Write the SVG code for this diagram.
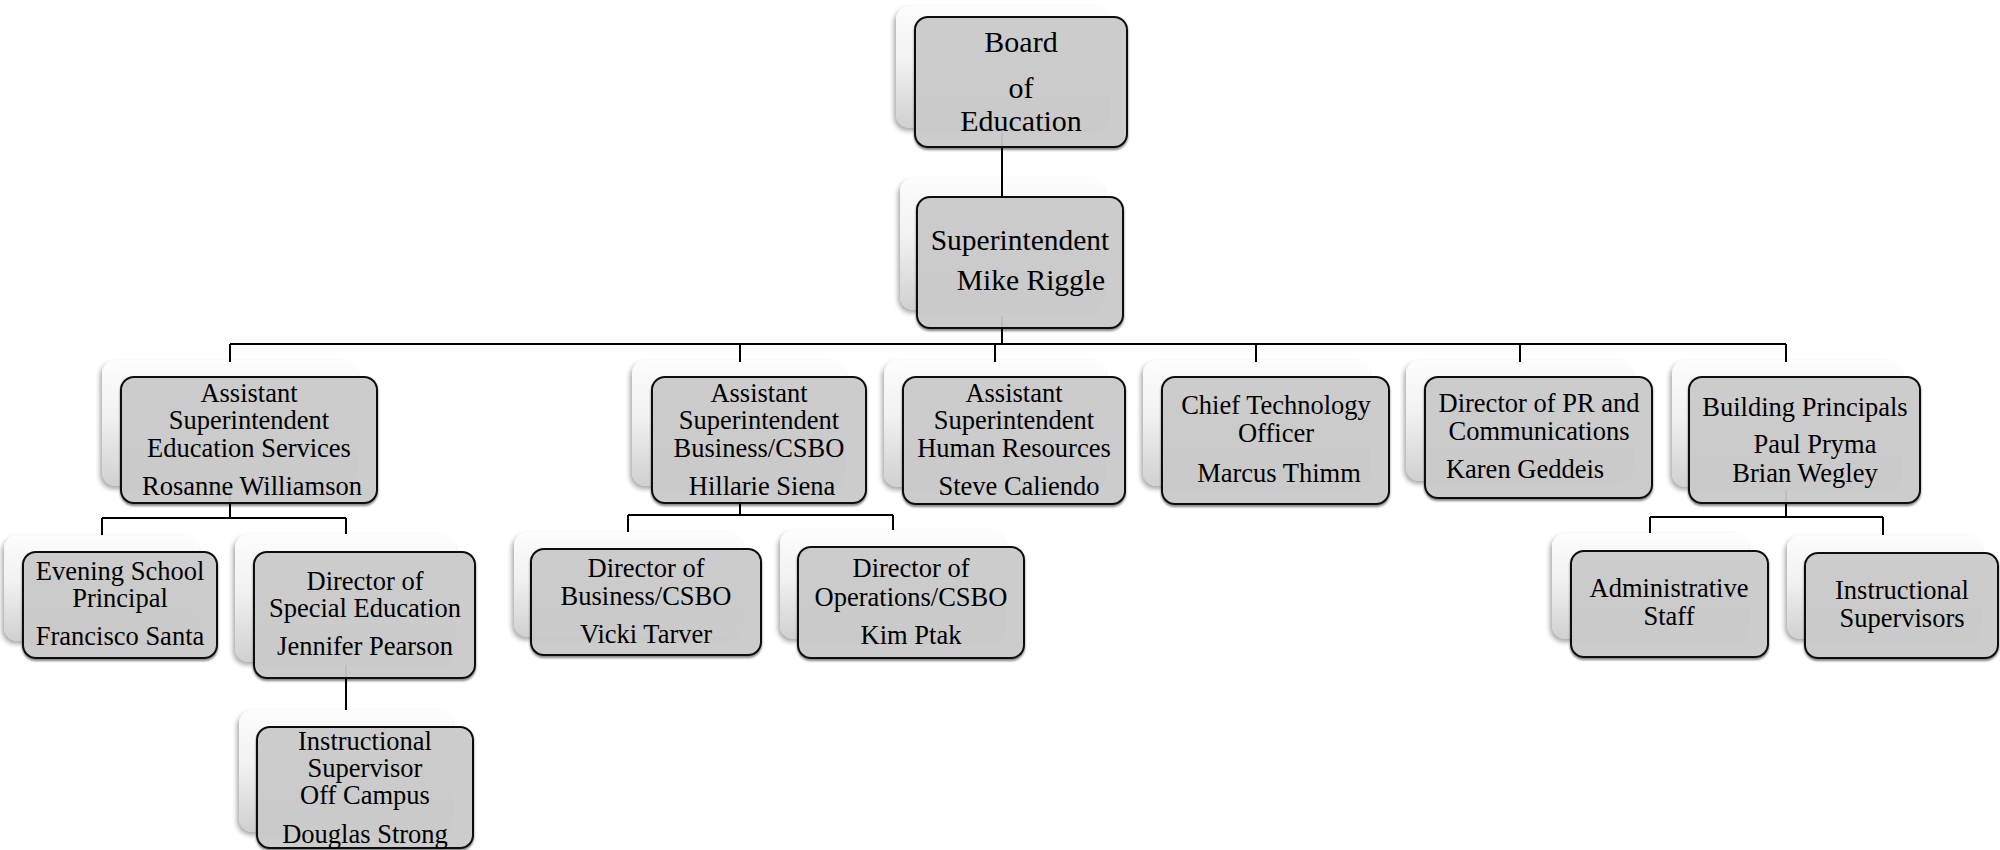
<svg xmlns="http://www.w3.org/2000/svg" width="2000" height="850" viewBox="0 0 2000 850">
<defs>
<linearGradient id="sg" x1="0" y1="0" x2="0" y2="1">
<stop offset="0" stop-color="#fdfdfd"/>
<stop offset="0.45" stop-color="#f1f1f1"/>
<stop offset="1" stop-color="#d0d0d0"/>
</linearGradient>
<filter id="fs" x="-10%" y="-10%" width="120%" height="125%">
<feGaussianBlur in="SourceAlpha" stdDeviation="2.5"/>
<feOffset dx="-2" dy="3" result="b"/>
<feComponentTransfer><feFuncA type="linear" slope="0.35"/></feComponentTransfer>
<feMerge><feMergeNode/><feMergeNode in="SourceGraphic"/></feMerge>
</filter>
<filter id="fb" x="-5%" y="-5%" width="110%" height="115%">
<feGaussianBlur in="SourceAlpha" stdDeviation="1"/>
<feOffset dx="0" dy="1.5"/>
<feComponentTransfer><feFuncA type="linear" slope="0.5"/></feComponentTransfer>
<feMerge><feMergeNode/><feMergeNode in="SourceGraphic"/></feMerge>
</filter>
</defs>
<style>
.sh{fill:url(#sg);filter:url(#fs)}
.bx{fill:#cdcdcd;fill-opacity:0.9;stroke:#111;stroke-width:2;filter:url(#fb)}
.t{font-family:"Liberation Serif","Times New Roman",serif;font-size:26.5px;fill:#000;text-anchor:middle}
.tl{font-size:30px}
.tm{font-size:29.5px}
.c{stroke:#000;stroke-width:2;fill:none}
</style>
<rect width="2000" height="850" fill="#fff"/>

<g id="shadows">
<rect class="sh" x="896" y="6" width="214" height="122" rx="14"/>
<rect class="sh" x="900" y="178" width="205" height="132" rx="14"/>
<rect class="sh" x="102" y="360" width="256" height="126" rx="14"/>
<rect class="sh" x="632" y="360" width="214" height="126" rx="14"/>
<rect class="sh" x="884" y="360" width="222" height="127" rx="14"/>
<rect class="sh" x="1143" y="360" width="227" height="126" rx="14"/>
<rect class="sh" x="1406" y="360" width="227" height="121" rx="14"/>
<rect class="sh" x="1672" y="360" width="230" height="127" rx="14"/>
<rect class="sh" x="4" y="535" width="195" height="106" rx="14"/>
<rect class="sh" x="235" y="534" width="221" height="128" rx="14"/>
<rect class="sh" x="239" y="710" width="214" height="122" rx="14"/>
<rect class="sh" x="514" y="532" width="229" height="105" rx="14"/>
<rect class="sh" x="780" y="530" width="226" height="109" rx="14"/>
<rect class="sh" x="1552" y="533" width="197" height="106" rx="14"/>
<rect class="sh" x="1787" y="535" width="195" height="104" rx="14"/>
</g>

<g id="connectors">
<path class="c" d="M1002 133V197"/>
<path class="c" d="M1002 316V344M230 344H1786M230 344V362M740 344V362M995 344V362M1256 344V362M1520 344V362M1786 344V362"/>
<path class="c" d="M230 490V518M102 518H346M102 518V535M346 518V534"/>
<path class="c" d="M346 665V710"/>
<path class="c" d="M740 490V515M628 515H893M628 515V532M893 515V530"/>
<path class="c" d="M1786 490V517M1650 517H1883M1650 517V533M1883 517V535"/>
</g>

<g id="board">
<rect class="bx" x="915" y="17" width="212" height="130" rx="13"/>
<text class="t tl" x="1021" y="52">Board</text>
<text class="t tl" x="1021" y="98">of</text>
<text class="t tl" x="1021" y="131">Education</text>
</g>
<g id="superintendent">
<rect class="bx" x="917" y="197" width="206" height="131" rx="13"/>
<text class="t tm" x="1020" y="250">Superintendent</text>
<text class="t tm" x="1031" y="290">Mike Riggle</text>
</g>
<g id="as-education">
<rect class="bx" x="121" y="377" width="256" height="126" rx="13"/>
<text class="t" x="249" y="402">Assistant</text>
<text class="t" x="249" y="429">Superintendent</text>
<text class="t" x="249" y="457">Education Services</text>
<text class="t" x="252" y="495">Rosanne Williamson</text>
</g>
<g id="as-business">
<rect class="bx" x="652" y="377" width="214" height="126" rx="13"/>
<text class="t" x="759" y="402">Assistant</text>
<text class="t" x="759" y="429">Superintendent</text>
<text class="t" x="759" y="457">Business/CSBO</text>
<text class="t" x="762" y="495">Hillarie Siena</text>
</g>
<g id="as-hr">
<rect class="bx" x="903" y="377" width="222" height="127" rx="13"/>
<text class="t" x="1014" y="402">Assistant</text>
<text class="t" x="1014" y="429">Superintendent</text>
<text class="t" x="1014" y="457">Human Resources</text>
<text class="t" x="1019" y="495">Steve Caliendo</text>
</g>
<g id="cto">
<rect class="bx" x="1162" y="377" width="227" height="127" rx="13"/>
<text class="t" x="1276" y="414">Chief Technology</text>
<text class="t" x="1276" y="442">Officer</text>
<text class="t" x="1279" y="482">Marcus Thimm</text>
</g>
<g id="pr">
<rect class="bx" x="1425" y="377" width="227" height="121" rx="13"/>
<text class="t" x="1539" y="412">Director of PR and</text>
<text class="t" x="1539" y="440">Communications</text>
<text class="t" x="1525" y="478">Karen Geddeis</text>
</g>
<g id="principals">
<rect class="bx" x="1689" y="377" width="231" height="126" rx="13"/>
<text class="t" x="1805" y="416">Building Principals</text>
<text class="t" x="1815" y="453">Paul Pryma</text>
<text class="t" x="1805" y="482">Brian Wegley</text>
</g>
<g id="evening">
<rect class="bx" x="23" y="552" width="194" height="106" rx="13"/>
<text class="t" x="120" y="580">Evening School</text>
<text class="t" x="120" y="607">Principal</text>
<text class="t" x="120" y="645">Francisco Santa</text>
</g>
<g id="special-ed">
<rect class="bx" x="254" y="552" width="221" height="126" rx="13"/>
<text class="t" x="365" y="590">Director of</text>
<text class="t" x="365" y="617">Special Education</text>
<text class="t" x="365" y="655">Jennifer Pearson</text>
</g>
<g id="off-campus">
<rect class="bx" x="257" y="727" width="216" height="121" rx="13"/>
<text class="t" x="365" y="750">Instructional</text>
<text class="t" x="365" y="777">Supervisor</text>
<text class="t" x="365" y="804">Off Campus</text>
<text class="t" x="365" y="843">Douglas Strong</text>
</g>
<g id="dir-business">
<rect class="bx" x="531" y="549" width="230" height="106" rx="13"/>
<text class="t" x="646" y="577">Director of</text>
<text class="t" x="646" y="605">Business/CSBO</text>
<text class="t" x="646" y="643">Vicki Tarver</text>
</g>
<g id="dir-operations">
<rect class="bx" x="798" y="547" width="226" height="111" rx="13"/>
<text class="t" x="911" y="577">Director of</text>
<text class="t" x="911" y="606">Operations/CSBO</text>
<text class="t" x="911" y="644">Kim Ptak</text>
</g>
<g id="admin-staff">
<rect class="bx" x="1571" y="551" width="197" height="106" rx="13"/>
<text class="t" x="1669" y="597">Administrative</text>
<text class="t" x="1669" y="625">Staff</text>
</g>
<g id="instr-supervisors">
<rect class="bx" x="1805" y="553" width="193" height="105" rx="13"/>
<text class="t" x="1902" y="599">Instructional</text>
<text class="t" x="1902" y="627">Supervisors</text>
</g>
</svg>
